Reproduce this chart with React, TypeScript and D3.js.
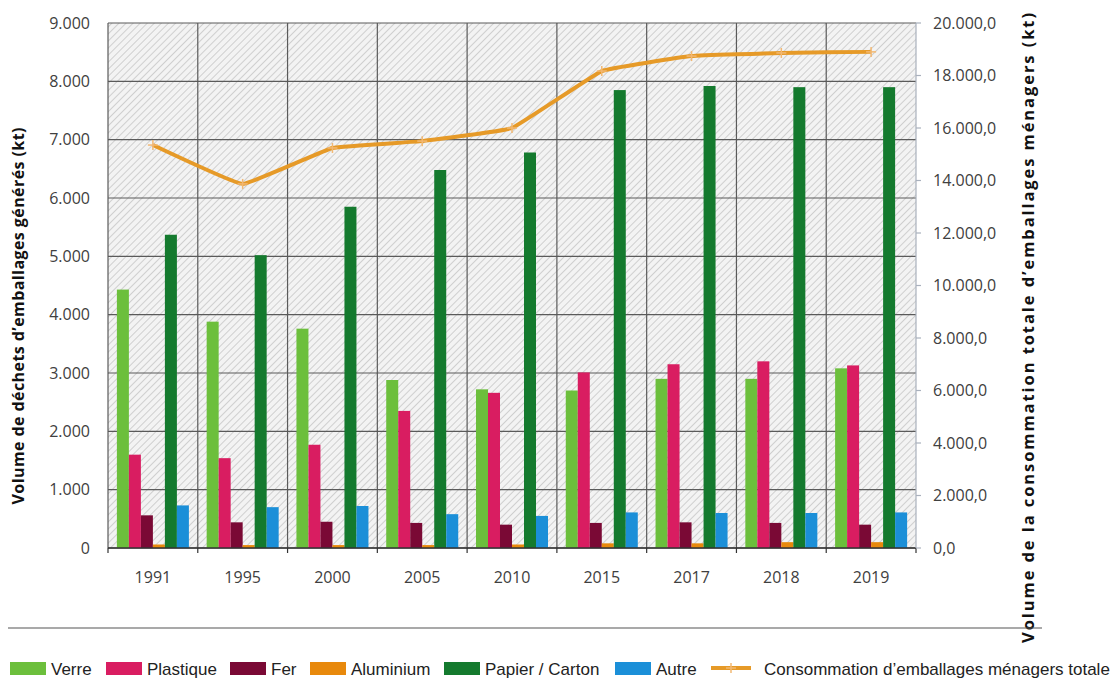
import React from "react";
import * as d3 from "d3";

const years = ["1991", "1995", "2000", "2005", "2010", "2015", "2017", "2018", "2019"];
const seriesNames = ["Verre", "Plastique", "Fer", "Aluminium", "Papier / Carton", "Autre"];
const seriesColors = ["#6cbf3c", "#d91d61", "#7a0935", "#e8890c", "#147a2e", "#1b8fd8"];

const verre = [4430, 3880, 3760, 2880, 2720, 2700, 2900, 2900, 3080];
const plastique = [1600, 1540, 1770, 2350, 2660, 3010, 3150, 3200, 3130];
const fer = [560, 440, 450, 430, 400, 430, 440, 430, 400];
const aluminium = [60, 50, 50, 50, 60, 80, 80, 100, 100];
const papier = [5370, 5020, 5850, 6480, 6780, 7850, 7920, 7900, 7900];
const autre = [730, 700, 720, 580, 550, 610, 600, 600, 610];
const consommation = [15350, 13870, 15240, 15500, 16000, 18170, 18740, 18860, 18900];

const leftTicks = [0, 1000, 2000, 3000, 4000, 5000, 6000, 7000, 8000, 9000];
const rightTicks = [0, 2000, 4000, 6000, 8000, 10000, 12000, 14000, 16000, 18000, 20000];
const lineName = "Consommation d’emballages ménagers totale";

const W = 1112;
const H = 678;
const M = { left: 108, right: 916, top: 23, bottom: 548 };

const locale = d3.formatLocale({ decimal: ",", thousands: ".", grouping: [3], currency: ["", ""] });
const fmtL = locale.format(",.0f");
const fmtR = locale.format(",.1f");

export default function App() {
  const values = [verre, plastique, fer, aluminium, papier, autre];
  const x0 = d3.scaleBand<string>().domain(years).range([M.left, M.right]).paddingInner(0).paddingOuter(0);
  const x1 = d3.scaleBand<string>().domain(seriesNames).range([0, x0.bandwidth()]).paddingInner(0).paddingOuter(0.74);
  const yL = d3.scaleLinear().domain([0, 9000]).range([M.bottom, M.top]);
  const yR = d3.scaleLinear().domain([0, 20000]).range([M.bottom, M.top]);
  const line = d3
    .line<number>()
    .x((_, i) => (x0(years[i]) as number) + x0.bandwidth() / 2)
    .y((d) => yR(d))
    .curve(d3.curveCardinal.tension(0.75));

  const font = "'Open Sans', 'DejaVu Sans', sans-serif";
  const legendFont = "'Liberation Sans', Arial, sans-serif";

  const legendItems = [
    ...seriesNames.map((n, i) => ({ name: n, color: seriesColors[i], kind: "rect" })),
    { name: lineName, color: "#e69a28", kind: "line" },
  ];
  const textW = (s: string) => {
    const widths: Record<string, number> = {
      Verre: 42, Plastique: 70, Fer: 26, Aluminium: 80, "Papier / Carton": 117, Autre: 42,
    };
    return widths[s] ?? 345;
  };
  let lx = 10;
  const legendPos = legendItems.map((it) => {
    const p = { ...it, x: lx };
    lx += 36 + 5 + textW(it.name) + 13;
    return p;
  });

  return (
    <svg width={W} height={H} style={{ position: "absolute", left: 0, top: 0, background: "#fff" }}>
      <defs>
        <pattern id="hatch" width="5" height="5" patternUnits="userSpaceOnUse" patternTransform="rotate(45)">
          <rect width="5" height="5" fill="#f3f3f3" />
          <line x1="0" y1="0" x2="0" y2="5" stroke="#c9c9c9" strokeWidth="1.7" />
        </pattern>
      </defs>
      <rect x={M.left} y={M.top} width={M.right - M.left} height={M.bottom - M.top} fill="url(#hatch)" />
      {leftTicks.map((t) => (
        <line key={"h" + t} x1={M.left} x2={M.right} y1={yL(t)} y2={yL(t)} stroke="#5a5a5a" strokeWidth={1.2} />
      ))}
      {years.map((y) => (
        <line key={"v" + y} x1={x0(y)} x2={x0(y)} y1={M.top} y2={M.bottom} stroke="#5a5a5a" strokeWidth={1.2} />
      ))}
      {values.map((arr, si) =>
        arr.map((v, i) => (
          <rect
            key={si + "-" + i}
            x={(x0(years[i]) as number) + (x1(seriesNames[si]) as number)}
            y={yL(v)}
            width={x1.bandwidth()}
            height={M.bottom - yL(v)}
            fill={seriesColors[si]}
          />
        ))
      )}
      <line x1={M.left} x2={M.right} y1={M.bottom} y2={M.bottom} stroke="#333" strokeWidth={1.5} />
      {[...years.map((y) => x0(y) as number), M.right].map((x, i) => (
        <line key={"bt" + i} x1={x} x2={x} y1={M.bottom} y2={M.bottom + 5} stroke="#333" strokeWidth={1.2} />
      ))}
      {years.map((y) => (
        <text key={"xl" + y} x={(x0(y) as number) + x0.bandwidth() / 2} y={583} textAnchor="middle" fontSize={16} fill="#404040" fontFamily={font}>
          {y}
        </text>
      ))}
      <line x1={M.right} x2={M.right} y1={M.top} y2={M.bottom} stroke="#a9b1bd" strokeWidth={1.2} />
      {rightTicks.map((t) => (
        <line key={"rt" + t} x1={M.right} x2={M.right + 5} y1={yR(t)} y2={yR(t)} stroke="#a9b1bd" strokeWidth={1.2} />
      ))}
      {rightTicks.map((t) => (
        <text key={"rl" + t} x={933} y={yR(t) + 5.5} fontSize={16} fill="#404040" fontFamily={font}>
          {fmtR(t)}
        </text>
      ))}
      {leftTicks.map((t) => (
        <text key={"ll" + t} x={90} y={yL(t) + 5.5} textAnchor="end" fontSize={16} fill="#404040" fontFamily={font}>
          {fmtL(t)}
        </text>
      ))}
      <path d={line(consommation) || ""} fill="none" stroke="#e69a28" strokeWidth={4} />
      {consommation.map((v, i) => {
        const cx = (x0(years[i]) as number) + x0.bandwidth() / 2;
        const cy = yR(v);
        return (
          <g key={"m" + i}>
            <line x1={cx - 5} x2={cx + 5} y1={cy} y2={cy} stroke="#f2b873" strokeWidth={1.5} />
            <line x1={cx} x2={cx} y1={cy - 5} y2={cy + 5} stroke="#f2b873" strokeWidth={1.5} />
          </g>
        );
      })}
      <text transform={`translate(24,316) rotate(-90)`} textAnchor="middle" fontSize={16} fontWeight="bold" fill="#111" fontFamily={font} textLength={377} lengthAdjust="spacing">
        Volume de déchets d’emballages générés (kt)
      </text>
      <text transform={`translate(1034,328) rotate(-90)`} textAnchor="middle" fontSize={16.5} fontWeight="bold" fill="#111" fontFamily={font} textLength={630} lengthAdjust="spacing">
        Volume de la consommation totale d’emballages ménagers (kt)
      </text>
      <line x1={8} x2={1042} y1={628} y2={628} stroke="#555" strokeWidth={1.2} />
      {legendPos.map((it) => (
        <g key={it.name}>
          {it.kind === "rect" ? (
            <rect x={it.x} y={662} width={36} height={13} fill={it.color} />
          ) : (
            <g>
              <line x1={it.x} x2={it.x + 40} y1={668} y2={668} stroke={it.color} strokeWidth={4} />
              <line x1={it.x + 15} x2={it.x + 25} y1={668} y2={668} stroke="#f2b873" strokeWidth={1.5} />
              <line x1={it.x + 20} x2={it.x + 20} y1={663} y2={673} stroke="#f2b873" strokeWidth={1.5} />
            </g>
          )}
          <text x={it.x + (it.kind === "rect" ? 41 : 53)} y={675} fontSize={17} fill="#222" fontFamily={legendFont}>
            {it.name}
          </text>
        </g>
      ))}
    </svg>
  );
}
